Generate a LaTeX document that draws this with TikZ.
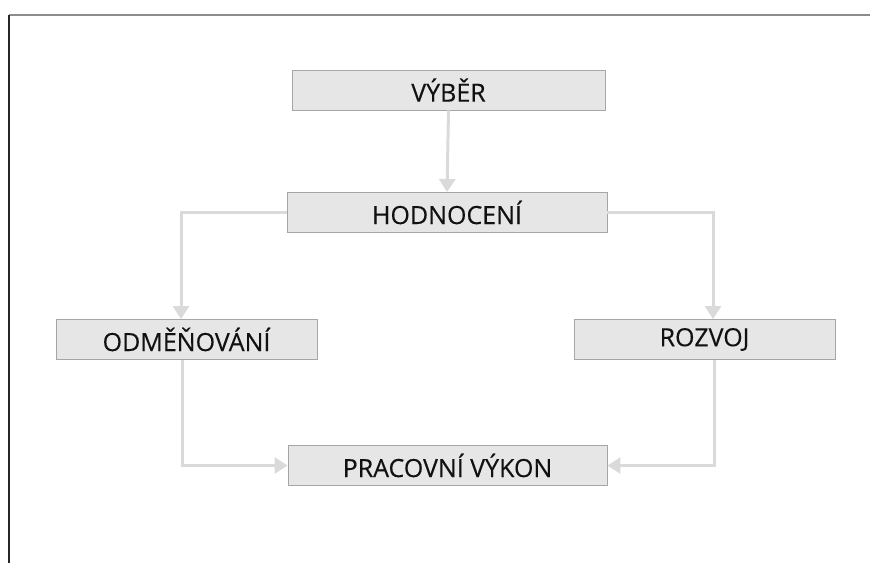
\documentclass[tikz,border=0pt]{standalone}
\usepackage{fontspec}
\setmainfont{Open Sans}
\newfontfamily\stagefont[FakeBold=0.25]{Open Sans}
\usetikzlibrary{arrows.meta}
\definecolor{boxfill}{HTML}{E6E6E6}
\definecolor{boxline}{HTML}{A6A6A6}
\definecolor{flow}{HTML}{DADADA}
\definecolor{txt}{HTML}{111111}
\tikzset{
  stage/.style={draw=boxline, line width=0.9pt, fill=boxfill, minimum height=40pt,
    inner sep=0pt, text=txt, font=\stagefont\fontsize{25}{29}\selectfont},
  flowline/.style={draw=flow, line width=3pt, -{Triangle[length=13pt,width=16pt]}},
}
\begin{document}
\begin{tikzpicture}[x=1pt,y=-1pt]
\useasboundingbox (0,0) rectangle (870,563);
% frame lines
\draw[color=gray!90, line width=2pt] (9,15) -- (870,15);
\draw[color=black!85, line width=1.2pt] (9,15) -- (9,563);
% stages
\node[stage, minimum width=313pt] (vyber) at (448.5,90) {VÝBĚR};
\node[stage, minimum width=320pt] (hodn) at (447,212.5) {HODNOCENÍ};
\node[stage, minimum width=261pt] (odm) at (186.5,339.5) {ODMĚŇOVÁNÍ};
\node[stage, minimum width=261pt] (rozv) at (704.5,339.5) {ROZVOJ};
\node[stage, minimum width=319pt] (prac) at (447.5,465.5) {PRACOVNÍ VÝKON};
% connectors
\coordinate (hl) at (181,212.5);
\coordinate (hr) at (713,212.5);
\coordinate (ob) at (182,465.5);
\coordinate (rb) at (714,465.5);
\draw[flowline] (vyber.south) -- (hodn.north);
\draw[flowline] (hodn.west) -- (hl) -- (hl |- odm.north);
\draw[flowline] (hodn.east) -- (hr) -- (hr |- rozv.north);
\draw[flowline] (ob |- odm.south) -- (ob) -- (prac.west);
\draw[flowline] (rb |- rozv.south) -- (rb) -- (prac.east);
\end{tikzpicture}
\end{document}
